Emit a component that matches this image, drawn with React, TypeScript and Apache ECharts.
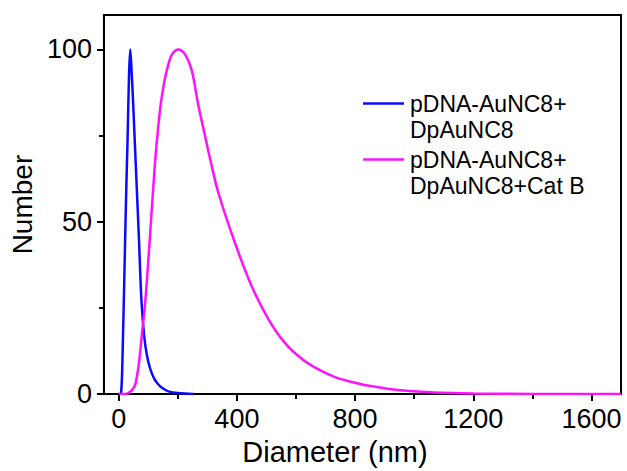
import React, { useEffect, useRef } from "react";
import * as echarts from "echarts";

const FONT = "'Liberation Sans', Arial, Helvetica, sans-serif";

const seriesNames = ["pDNA-AuNC8+\nDpAuNC8", "pDNA-AuNC8+\nDpAuNC8+Cat B"];
const seriesColors = ["#0a0aff", "#ff10ff"];

const xTickValues = [0, 400, 800, 1200, 1600];
const xMinorTickValues = [200, 600, 1000, 1400];
const yTickValues = [0, 50, 100];
const yMinorTickValues = [25, 75];

const blueDiameters = [5, 8, 11, 14, 18, 22, 26, 30, 35, 39, 44, 49, 54, 61, 68, 77, 86, 95, 106, 120, 135, 150, 168, 200, 252];
const blueNumbers = [0, 0.5, 5, 15, 30, 46, 61, 74, 93, 100, 93, 84, 74, 60, 46, 27, 17, 11.5, 7.5, 4.5, 2.7, 1.6, 0.8, 0.3, 0];

const magentaDiameters = [0, 20, 30, 40, 50, 56, 67, 78, 90, 106, 121, 132, 142, 152, 163, 180, 202, 225, 247, 269, 292, 310, 337, 393, 449, 505, 561, 617, 673, 730, 786, 842, 954, 1066, 1200, 1400, 1700];
const magentaNumbers = [0, 0, 0.2, 0.8, 1.8, 2.7, 8, 17, 27, 46, 65, 76, 84, 89.5, 94, 98.5, 100, 98.5, 94, 84, 75, 68, 58.5, 44, 31.5, 22, 15, 10.4, 7.3, 5, 3.6, 2.5, 1.1, 0.5, 0.2, 0.05, 0];

const pairs = (xs: number[], ys: number[]) => xs.map((x, i) => [x, ys[i]]);

export default function App() {
  const ref = useRef<HTMLDivElement>(null);

  useEffect(() => {
    if (!ref.current) return;
    const chart = echarts.init(ref.current, undefined, { renderer: "svg" });
    const black = "#000";
    const tickLabel = { color: black, fontSize: 27, fontFamily: FONT, formatter: (v: number) => String(v) };
    const baseX = { type: "value", min: -50, max: 1700, position: "bottom", gridIndex: 0, splitLine: { show: false } };
    const baseY = { type: "value", min: 0, max: 110, position: "left", gridIndex: 0, splitLine: { show: false } };

    const legendItems = seriesNames.map((name, i) => {
      const y = [103.5, 159.5][i];
      return [
        { type: "line", shape: { x1: 363, y1: y, x2: 404, y2: y }, style: { stroke: seriesColors[i], lineWidth: 2.5 } },
        {
          type: "text",
          x: 410,
          y: y - 13,
          style: { text: name, font: `23px ${FONT}`, fill: black, lineHeight: 26, textVerticalAlign: "top" },
        },
      ];
    }).flat();

    chart.setOption({
      animation: false,
      backgroundColor: "#fff",
      grid: { left: 102, right: 6, top: 15, bottom: 71, show: true, borderColor: black, borderWidth: 2, backgroundColor: "transparent" },
      xAxis: [
        {
          ...baseX,
          axisLine: { onZero: false, lineStyle: { color: black, width: 2 } },
          axisTick: { customValues: xTickValues, length: 7, lineStyle: { color: black, width: 2 } },
          axisLabel: { ...tickLabel, customValues: xTickValues, margin: 11 },
          name: "Diameter (nm)",
          nameLocation: "middle",
          nameGap: 38,
          nameTextStyle: { color: black, fontSize: 29, fontFamily: FONT, padding: [0, 55, 0, 0] },
        },
        {
          ...baseX,
          axisLine: { show: false, onZero: false },
          axisTick: { customValues: xMinorTickValues, length: 5, lineStyle: { color: black, width: 2 } },
          axisLabel: { show: false },
        },
      ],
      yAxis: [
        {
          ...baseY,
          axisLine: { onZero: false, lineStyle: { color: black, width: 2 } },
          axisTick: { customValues: yTickValues, length: 7, lineStyle: { color: black, width: 2 } },
          axisLabel: { ...tickLabel, customValues: yTickValues, margin: 12 },
          name: "Number",
          nameLocation: "middle",
          nameGap: 64,
          nameTextStyle: { color: black, fontSize: 28, fontFamily: FONT },
        },
        {
          ...baseY,
          axisLine: { show: false, onZero: false },
          axisTick: { customValues: yMinorTickValues, length: 5, lineStyle: { color: black, width: 2 } },
          axisLabel: { show: false },
        },
      ],
      series: [
        {
          name: seriesNames[0],
          type: "line",
          data: pairs(blueDiameters, blueNumbers),
          showSymbol: false,
          smooth: 0.35,
          lineStyle: { color: seriesColors[0], width: 2.5 },
          itemStyle: { color: seriesColors[0] },
        },
        {
          name: seriesNames[1],
          type: "line",
          data: pairs(magentaDiameters, magentaNumbers),
          showSymbol: false,
          smooth: 0.35,
          lineStyle: { color: seriesColors[1], width: 2.5 },
          itemStyle: { color: seriesColors[1] },
        },
      ],
      graphic: legendItems,
    });
    return () => chart.dispose();
  }, []);

  return <div ref={ref} style={{ position: "fixed", left: 0, top: 0, width: 627, height: 471, background: "#fff" }} />;
}
